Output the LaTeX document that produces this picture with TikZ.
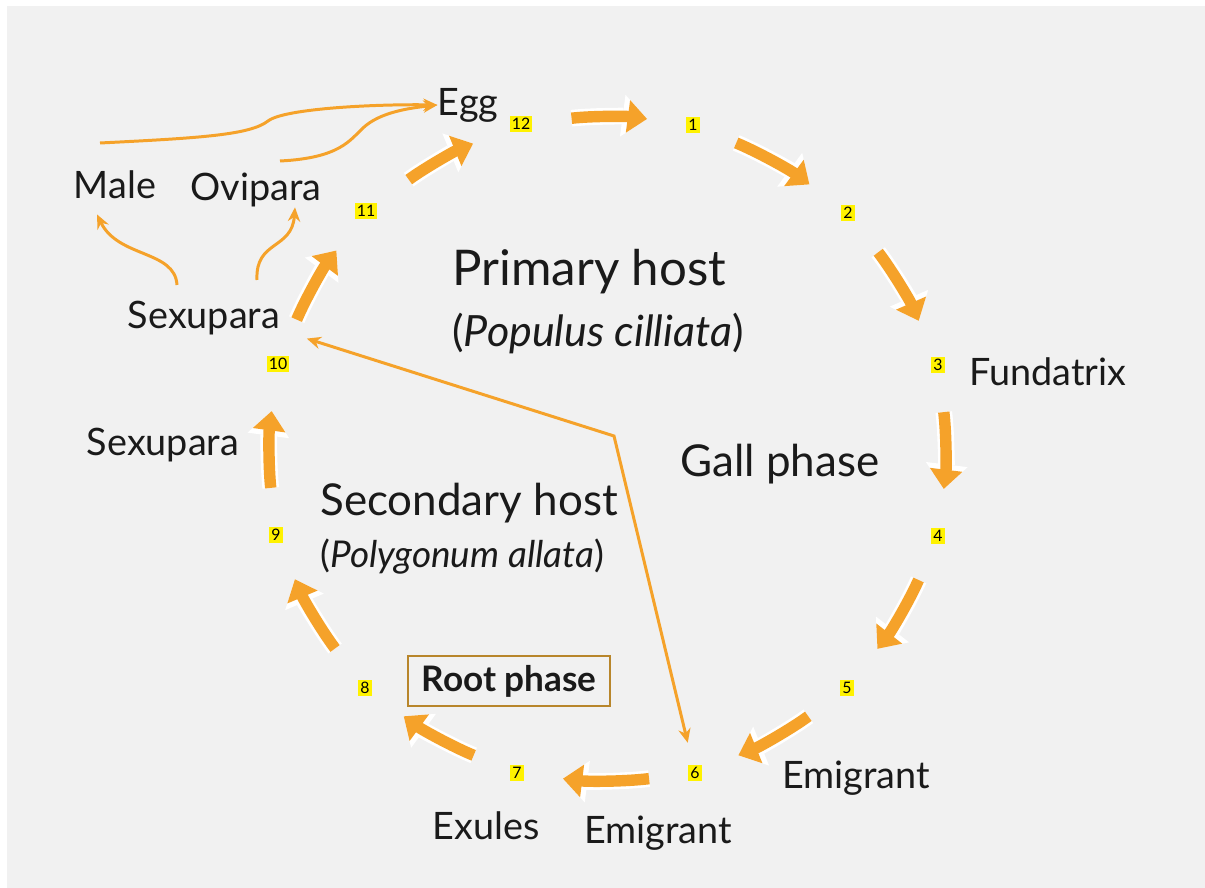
\documentclass[tikz,border=0pt]{standalone}
\usepackage{fontspec}
\setmainfont{Lato}
\usetikzlibrary{arrows.meta,positioning}
\definecolor{bg}{HTML}{F1F1F1}
\definecolor{arr}{HTML}{F5A22A}
\definecolor{rootbox}{HTML}{B8862B}
\definecolor{ink}{HTML}{1A1A1A}
\tikzset{
  num/.style={fill=yellow, inner sep=1.3pt, font=\fontsize{9}{9}\selectfont},
  lbl/.style={text=ink, inner sep=0pt, font=\fontsize{21.5}{24}\selectfont},
  big/.style={text=ink, inner sep=0pt, anchor=west, font=\fontsize{25}{28}\selectfont},
  sub/.style={text=ink, inner sep=0pt, anchor=west, font=\fontsize{21}{24}\selectfont},
  cyc/.style={arr, line width=6.5pt, shorten <=0.78cm, shorten >=0.78cm, bend left=7,
    -{Triangle[length=11pt,width=18pt]},
    preaction={draw=white, line width=9.5pt, -{Triangle[length=14pt,width=23pt]}}},
  link/.style={arr, line width=1.7pt, -{Stealth[length=8pt,width=7pt]}}
}
\begin{document}
\begin{tikzpicture}[x=0.02cm, y=-0.02cm]
  \fill[white] (0,0) rectangle (1205,888);
  \fill[bg] (7,6) rectangle (1205,888);
  \useasboundingbox (0,0) rectangle (1205,888);

  % stage numbers round the cycle
  \node[num] (n12) at (521,124) {12};
  \node[num] (n1) at (693,125) {1};
  \node[num] (n2) at (848,213) {2};
  \node[num] (n3) at (938,365) {3};
  \node[num] (n4) at (938,536) {4};
  \node[num] (n5) at (847,688) {5};
  \node[num] (n6) at (695,773) {6};
  \node[num] (n7) at (517,773) {7};
  \node[num] (n8) at (365,688) {8};
  \node[num] (n9) at (276,535) {9};
  \node[num] (n10) at (278,364) {10};
  \node[num] (n11) at (366,211) {11};

  % morph labels
  \node[lbl] (egg) at (468,105) {Egg};
  \node[lbl] (male) at (115,185) {Male};
  \node[lbl] (ovipara) at (256,190) {Ovipara};
  \node[lbl] (sexu) at (204,318) {Sexupara};
  \node[lbl] (sexu2) at (163,445) {Sexupara};
  \node[lbl] (fundatrix) at (1048,372) {Fundatrix};
  \node[lbl] (emig) at (856,778) {Emigrant};
  \node[lbl] (emig2) at (658,833) {Emigrant};
  \node[lbl] (exules) at (486,826) {Exules};

  % hosts and phases
  \node[big, font=\fontsize{28}{31}\selectfont] (primary) at (452,272) {Primary host};
  \node[sub, font=\fontsize{24.5}{27}\selectfont] (populus) at (452,334) {(\textit{Populus cilliata})};
  \node[big, anchor=center] (gall) at (780,464) {Gall phase};
  \node[big] (secondary) at (320,503) {Secondary host};
  \node[sub] (polygonum) at (320,557) {(\textit{Polygonum allata})};
  \node[draw=rootbox, line width=1.2pt, text=ink, minimum width=4.04cm, minimum height=1cm,
    font=\fontsize{20}{22}\selectfont\bfseries] (root) at (509,681) {Root phase};

  % the cycle
  \foreach \a/\b in {n12/n1, n1/n2, n2/n3, n3/n4, n4/n5, n5/n6, n6/n7, n7/n8, n8/n9, n9/n10, n10/n11, n11/n12}
    \draw[cyc] (\a) to (\b);

  % sexual generation
  \coordinate (m0) at (100,143);
  \coordinate (o0) at (280,161);
  \coordinate (s1) at (177,285);
  \coordinate (s2) at (257,280);
  \draw[link] (m0) .. controls (200,138) and (250,135) .. (268,121)
    .. controls (285,108) and (380,104) .. (egg.west);
  \draw[link] (o0) .. controls (340,158) and (350,140) .. (363,128)
    .. controls (380,112) and (410,108) .. (egg.west);
  \draw[link] (s1) .. controls (175,250) and (118,258) .. ([xshift=-0.36cm,yshift=-0.3cm]male.south);
  \draw[link] (s2) .. controls (255,240) and (292,250) .. ([xshift=0.78cm]ovipara.south);

  % emigrant link
  \coordinate (bend) at (614,436);
  \draw[link, {Stealth[length=8pt,width=7pt]}-{Stealth[length=8pt,width=7pt]}, shorten >=0.45cm]
    ([xshift=0.34cm,yshift=0.34cm]n10.north east) -- (bend) -- (n6);
\end{tikzpicture}
\end{document}
